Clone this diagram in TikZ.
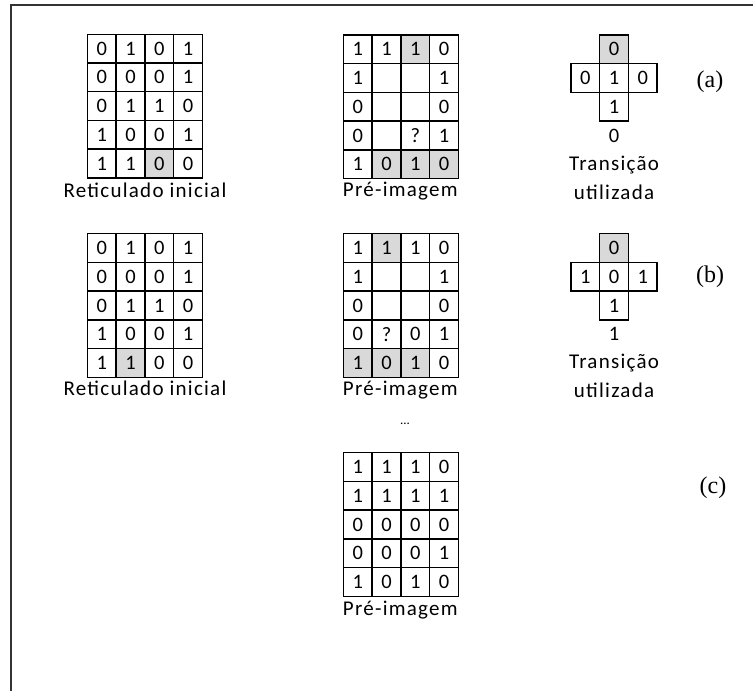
\documentclass[tikz,border=0pt]{standalone}
\usepackage{fontspec}
\setmainfont{Carlito}
\newfontfamily\lblfont[LetterSpace=6]{Carlito}
\newfontfamily\capfont{Liberation Serif}
\usepackage{tikz}
\usetikzlibrary{backgrounds}
\definecolor{shd}{HTML}{D9D9D9}
\definecolor{frm}{HTML}{333333}

% one lattice of 4 x 5 cells: #1 name prefix, #2 rows
\newcommand{\latgrid}[2]{%
  \foreach \row [count=\i from 0] in {#2} {
    \foreach \v [count=\j from 0] in \row {
      \node[cel] (#1-\i-\j) at (\j*28.8+14.4, \i*28.7+14.35) {\v};
    }
  }%
}
% grey background behind a named cell
\newcommand{\cellbg}[1]{\fill[shd] (#1.north west) rectangle (#1.south east);}

\begin{document}
\begin{tikzpicture}[x=1pt,y=-1pt,
  cel/.style={draw=black,line width=1.4pt,minimum width=28.8pt,minimum height=28.7pt,inner sep=0pt,
    font=\lblfont\fontsize{20.5}{24}\selectfont,yshift=-1pt},
  res/.style={inner sep=0pt,font=\lblfont\fontsize{20.5}{24}\selectfont},
  lbl/.style={inner sep=0pt,anchor=base,font=\lblfont\fontsize{21}{24}\selectfont},
  tag/.style={inner sep=0pt,font=\capfont\fontsize{24}{28}\selectfont}]
\useasboundingbox (0,0) rectangle (753,691);
\draw[frm,line width=1.8pt] (11,691) -- (11,5.3) -- (753,5.3);

% ---- row (a)
\begin{scope}[shift={(87.3,33.3)}]
  \latgrid{ia}{{0,1,0,1},{0,0,0,1},{0,1,1,0},{1,0,0,1},{1,1,0,0}}
\end{scope}
\begin{scope}[shift={(343.3,34)}]
  \latgrid{pa}{{1,1,1,0},{1,{},{},1},{0,{},{},0},{0,{},?,1},{1,0,1,0}}
\end{scope}
\begin{scope}[on background layer]
  \cellbg{ia-4-2} \cellbg{pa-0-2} \cellbg{pa-4-1} \cellbg{pa-4-2} \cellbg{pa-4-3}
\end{scope}
\node[lbl] (ia-lbl) at (145,197) {Reticulado inicial};
\node[lbl] (pa-lbl) at (400.3,196) {Pré-imagem};
\begin{scope}[shift={(571,34)}]
  \node[cel,fill=shd] (ta-n) at (43.05,14.35) {0};
  \node[cel] (ta-w) at (14.35,43.05) {0};
  \node[cel] (ta-c) at (43.05,43.05) {1};
  \node[cel] (ta-e) at (71.75,43.05) {0};
  \node[cel] (ta-s) at (43.05,71.75) {1};
  \node[res] (ta-r) at (43.05,101.5) {0};
  \node[lbl] (ta-l1) at (43.05,136) {Transição};
  \node[lbl] (ta-l2) at (43.05,165) {utilizada};
\end{scope}
\node[tag] (tag-a) at (710,81.7) {(a)};

% ---- row (b)
\begin{scope}[shift={(87.3,232.7)}]
  \latgrid{ib}{{0,1,0,1},{0,0,0,1},{0,1,1,0},{1,0,0,1},{1,1,0,0}}
\end{scope}
\begin{scope}[shift={(343.3,232.7)}]
  \latgrid{pb}{{1,1,1,0},{1,{},{},1},{0,{},{},0},{0,?,0,1},{1,0,1,0}}
\end{scope}
\begin{scope}[on background layer]
  \cellbg{ib-4-1} \cellbg{pb-0-1} \cellbg{pb-4-0} \cellbg{pb-4-1} \cellbg{pb-4-2}
\end{scope}
\node[lbl] (ib-lbl) at (145,395) {Reticulado inicial};
\node[lbl] (pb-lbl) at (400.3,395) {Pré-imagem};
\begin{scope}[shift={(571,232.7)}]
  \node[cel,fill=shd] (tb-n) at (43.05,14.35) {0};
  \node[cel] (tb-w) at (14.35,43.05) {1};
  \node[cel] (tb-c) at (43.05,43.05) {0};
  \node[cel] (tb-e) at (71.75,43.05) {1};
  \node[cel] (tb-s) at (43.05,71.75) {1};
  \node[res] (tb-r) at (43.05,101.5) {1};
  \node[lbl] (tb-l1) at (43.05,136) {Transição};
  \node[lbl] (tb-l2) at (43.05,165) {utilizada};
\end{scope}
\node[tag] (tag-b) at (710,276.7) {(b)};

% ---- row (c)
\node[inner sep=0pt,font=\fontsize{13}{15}\selectfont] (dots) at (405,424) {...};
\begin{scope}[shift={(343.3,451.7)}]
  \latgrid{pc}{{1,1,1,0},{1,1,1,1},{0,0,0,0},{0,0,0,1},{1,0,1,0}}
\end{scope}
\node[lbl] (pc-lbl) at (400.3,615) {Pré-imagem};
\node[tag] (tag-c) at (713,488) {(c)};
\end{tikzpicture}
\end{document}
